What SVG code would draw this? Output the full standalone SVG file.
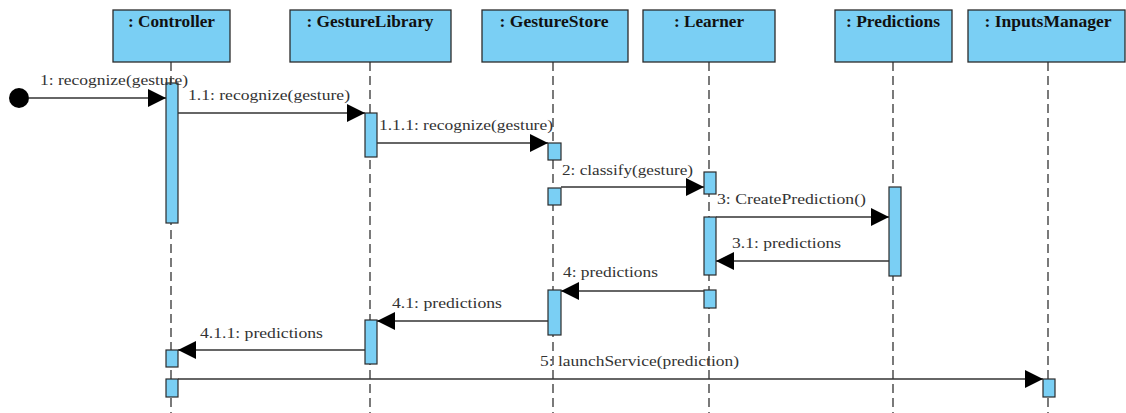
<svg xmlns="http://www.w3.org/2000/svg" width="1126" height="413" viewBox="0 0 1126 413">
<style>
.hdr{fill:#7ACFF4;stroke:#2b2b2b;stroke-width:1.3}
.act{fill:#7ACFF4;stroke:#2b2b2b;stroke-width:1.2}
.life{stroke:#333;stroke-width:1.3;stroke-dasharray:9,5;fill:none}
.msg{stroke:#333;stroke-width:1.3;fill:none;marker-end:url(#ah)}
.ht{font-family:"Liberation Serif",serif;font-weight:bold;font-size:16px;fill:#111;text-anchor:middle}
.ml{font-family:"Liberation Serif",serif;font-size:15px;fill:#333}
</style>
<defs>
<marker id="ah" markerUnits="userSpaceOnUse" markerWidth="18" markerHeight="18" refX="18" refY="9" orient="auto">
<path d="M0,0 L18,9 L0,18 z" fill="#000"/>
</marker>
</defs>
<rect width="1126" height="413" fill="#fff"/>
<g id="lifelines">
<line class="life" x1="171" y1="62" x2="171" y2="413"/>
<line class="life" x1="370" y1="62" x2="370" y2="413"/>
<line class="life" x1="553" y1="62" x2="553" y2="413"/>
<line class="life" x1="709" y1="62" x2="709" y2="413"/>
<line class="life" x1="893" y1="62" x2="893" y2="413"/>
<line class="life" x1="1048" y1="62" x2="1048" y2="413"/>
</g>
<g id="controller">
<rect class="hdr" x="113" y="10" width="117" height="52"/>
<text class="ht" x="171.5" y="27" textLength="87" lengthAdjust="spacingAndGlyphs">: Controller</text>
<rect class="act" x="166" y="83" width="12" height="140"/>
<rect class="act" x="166" y="350" width="12" height="17"/>
<rect class="act" x="166" y="379" width="12" height="18"/>
</g>
<g id="gestureLibrary">
<rect class="hdr" x="290" y="10" width="161" height="52"/>
<text class="ht" x="370" y="27" textLength="127" lengthAdjust="spacingAndGlyphs">: GestureLibrary</text>
<rect class="act" x="365" y="113" width="12" height="44"/>
<rect class="act" x="365" y="320" width="12" height="44"/>
</g>
<g id="gestureStore">
<rect class="hdr" x="482" y="10" width="146" height="52"/>
<text class="ht" x="554" y="27" textLength="109" lengthAdjust="spacingAndGlyphs">: GestureStore</text>
<rect class="act" x="548" y="143" width="13" height="17"/>
<rect class="act" x="548" y="188" width="13" height="17"/>
<rect class="act" x="548" y="290" width="13" height="45"/>
</g>
<g id="learner">
<rect class="hdr" x="643" y="10" width="132" height="52"/>
<text class="ht" x="709" y="27" textLength="70" lengthAdjust="spacingAndGlyphs">: Learner</text>
<rect class="act" x="704" y="172" width="12" height="22"/>
<rect class="act" x="704" y="217" width="12" height="58"/>
<rect class="act" x="704" y="290" width="12" height="18"/>
</g>
<g id="predictions">
<rect class="hdr" x="835" y="10" width="117" height="52"/>
<text class="ht" x="893" y="27" textLength="94" lengthAdjust="spacingAndGlyphs">: Predictions</text>
<rect class="act" x="889" y="187" width="12" height="89"/>
</g>
<g id="inputsManager">
<rect class="hdr" x="968" y="10" width="157" height="52"/>
<text class="ht" x="1048" y="27" textLength="127" lengthAdjust="spacingAndGlyphs">: InputsManager</text>
<rect class="act" x="1043" y="379" width="12" height="18"/>
</g>
<g id="start">
<circle cx="19" cy="98" r="10" fill="#000"/>
</g>
<g id="connectors">
<line class="msg" x1="29" y1="98" x2="166" y2="98"/>
<line class="msg" x1="178" y1="113" x2="365" y2="113"/>
<line class="msg" x1="377" y1="143" x2="548" y2="143"/>
<line class="msg" x1="561" y1="187" x2="704" y2="187"/>
<line class="msg" x1="716" y1="217" x2="889" y2="217"/>
<line class="msg" x1="889" y1="261" x2="716" y2="261"/>
<line class="msg" x1="704" y1="291" x2="561" y2="291"/>
<line class="msg" x1="548" y1="321" x2="377" y2="321"/>
<line class="msg" x1="365" y1="350" x2="178" y2="350"/>
<line class="msg" x1="178" y1="379" x2="1043" y2="379"/>
</g>
<g id="labels">
<text class="ml" x="40" y="85" textLength="148" lengthAdjust="spacingAndGlyphs">1: recognize(gesture)</text>
<text class="ml" x="188" y="100" textLength="162" lengthAdjust="spacingAndGlyphs">1.1: recognize(gesture)</text>
<text class="ml" x="379" y="130" textLength="174" lengthAdjust="spacingAndGlyphs">1.1.1: recognize(gesture)</text>
<text class="ml" x="562" y="175" textLength="131" lengthAdjust="spacingAndGlyphs">2: classify(gesture)</text>
<text class="ml" x="717" y="204" textLength="149" lengthAdjust="spacingAndGlyphs">3: CreatePrediction()</text>
<text class="ml" x="732" y="248" textLength="109" lengthAdjust="spacingAndGlyphs">3.1: predictions</text>
<text class="ml" x="563" y="277" textLength="95" lengthAdjust="spacingAndGlyphs">4: predictions</text>
<text class="ml" x="392" y="308" textLength="110" lengthAdjust="spacingAndGlyphs">4.1: predictions</text>
<text class="ml" x="200" y="338" textLength="123" lengthAdjust="spacingAndGlyphs">4.1.1: predictions</text>
<text class="ml" x="540" y="366" textLength="199" lengthAdjust="spacingAndGlyphs">5: launchService(prediction)</text>
</g>
</svg>
